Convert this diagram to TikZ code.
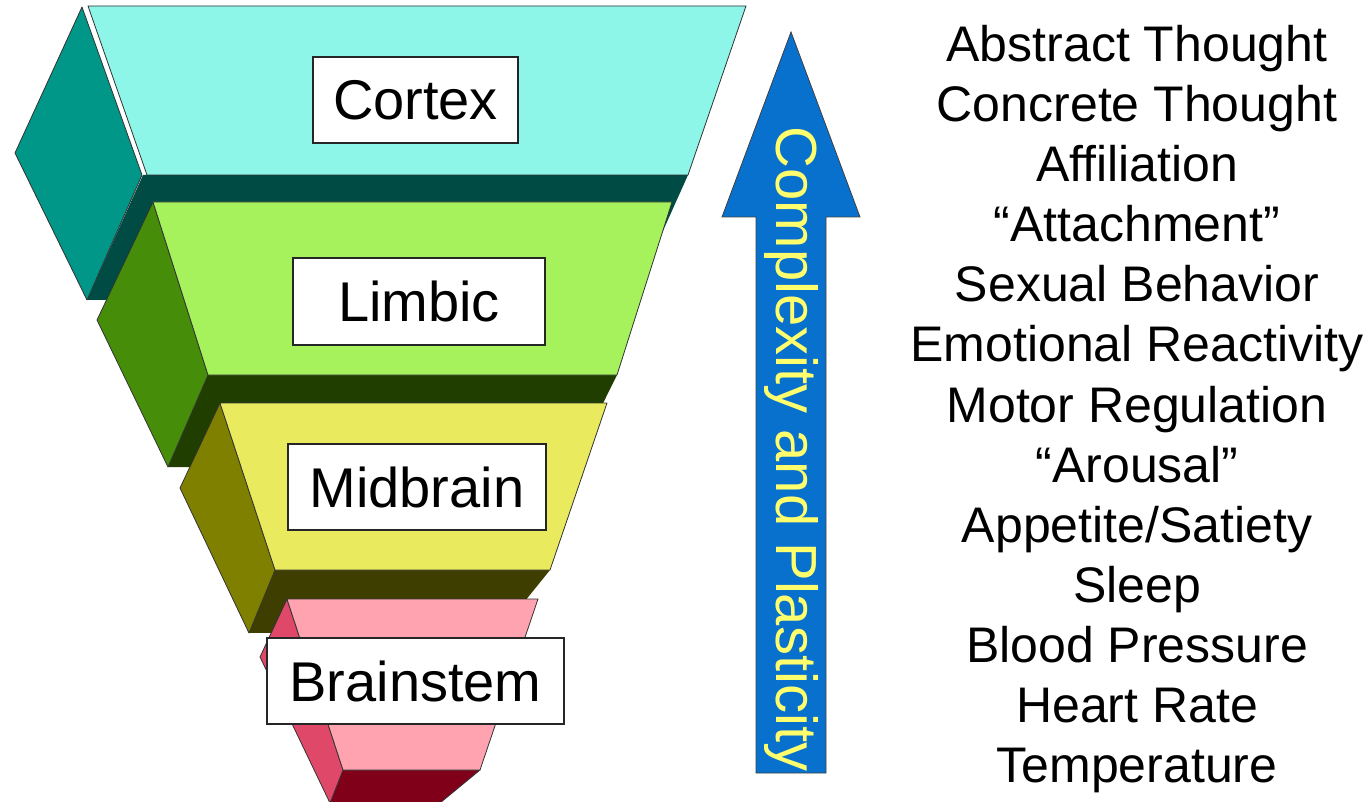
\documentclass[tikz,border=0pt]{standalone}
\usepackage{fontspec}
\setmainfont{Liberation Sans}
% face colours of the four layers: front / left side / underside
\definecolor{cxfront}{RGB}{142,245,233}
\definecolor{cxside}{RGB}{0,150,136}
\definecolor{cxunder}{RGB}{0,75,68}
\definecolor{lbfront}{RGB}{165,242,92}
\definecolor{lbside}{RGB}{70,142,10}
\definecolor{lbunder}{RGB}{32,62,0}
\definecolor{mbfront}{RGB}{234,234,94}
\definecolor{mbside}{RGB}{128,128,0}
\definecolor{mbunder}{RGB}{62,62,0}
\definecolor{bsfront}{RGB}{255,163,177}
\definecolor{bsside}{RGB}{224,72,106}
\definecolor{bsunder}{RGB}{128,0,26}
\definecolor{arrowblue}{RGB}{8,112,205}
\definecolor{arrowtext}{RGB}{255,255,110}
\begin{document}
\begin{tikzpicture}[x=1pt,y=-1pt,
  face/.style={draw=black!80, line width=0.8pt, line join=round},
  layerlabel/.style={draw=black!85, line width=1.3pt, fill=white,
    font=\fontsize{56}{60}\selectfont, inner sep=0pt},
  item/.style={font=\fontsize{50}{56}\selectfont, inner sep=0pt, anchor=base},
  bigarrow/.style={draw=black!75, line width=0.8pt, fill=arrowblue, line join=miter}]
\useasboundingbox (0,0) rectangle (1371,802);

% ---- Cortex layer ----
\fill[cxunder] (143,175) -- (688,175) -- (632,300) -- (87,300) -- cycle;
\draw[face, fill=cxside] (82,7) -- (15,153) -- (87,300) -- (142,175) -- cycle;
\draw[face, fill=cxfront] (88,6) -- (746,6) -- (688,175) -- (147,175) -- cycle;

% ---- Limbic layer ----
\fill[lbunder] (208,375) -- (617,375) -- (570,470) -- (168,467) -- cycle;
\draw[face, fill=lbside] (153,202) -- (97,320) -- (168,467) -- (208,375) -- cycle;
\draw[face, fill=lbfront] (153,202) -- (672,202) -- (617,375) -- (208,375) -- cycle;

% ---- Midbrain layer ----
\fill[mbunder] (275,570) -- (550,570) -- (500,632) -- (249,633) -- cycle;
\draw[face, fill=mbside] (220,403) -- (180,488) -- (249,633) -- (275,570) -- cycle;
\draw[face, fill=mbfront] (220,403) -- (607,403) -- (550,570) -- (275,570) -- cycle;

% ---- Brainstem layer ----
\fill[bsunder] (343,770) -- (480,770) -- (440,803) -- (330,803) -- cycle;
\draw[face] (343,770) -- (480,770) -- (440,803);
\draw[face, fill=bsside] (287,599) -- (260,657) -- (330,803) -- (343,770) -- cycle;
\draw[face, fill=bsfront] (287,599) -- (538,599) -- (480,770) -- (343,770) -- cycle;

% ---- layer names ----
\node[layerlabel, minimum width=205pt, minimum height=86pt] (cortex) at (415.5,100) {Cortex};
\node[layerlabel, minimum width=252pt, minimum height=87pt] (limbic) at (419,301.5) {Limbic};
\node[layerlabel, minimum width=258pt, minimum height=86pt] (midbrain) at (417,487) {Midbrain};
\node[layerlabel, minimum width=297pt, minimum height=86pt] (brainstem) at (415.5,681) {Brainstem};

% ---- upward arrow ----
\draw[bigarrow] (756,773) -- (756,217) -- (722,217) -- (791,32) -- (860,217)
  -- (826,217) -- (826,773) -- cycle;
\node[rotate=-90, text=arrowtext, font=\fontsize{58}{60}\selectfont, inner sep=0pt]
  (trend) at (791,449) {Complexity and Plasticity};

% ---- functions, from highest to lowest ----
\node[item] (f1)  at (1137,62)  {Abstract Thought};
\node[item] (f2)  at (1137,122) {Concrete Thought};
\node[item] (f3)  at (1137,182) {Affiliation};
\node[item] (f4)  at (1137,242) {“Attachment”};
\node[item] (f5)  at (1137,302) {Sexual Behavior};
\node[item] (f6)  at (1137,362) {Emotional Reactivity};
\node[item] (f7)  at (1137,422) {Motor Regulation};
\node[item] (f8)  at (1137,482) {“Arousal”};
\node[item] (f9)  at (1137,542) {Appetite/Satiety};
\node[item] (f10) at (1137,602) {Sleep};
\node[item] (f11) at (1137,662) {Blood Pressure};
\node[item] (f12) at (1137,722) {Heart Rate};
\node[item] (f13) at (1137,782) {Temperature};
\end{tikzpicture}
\end{document}
